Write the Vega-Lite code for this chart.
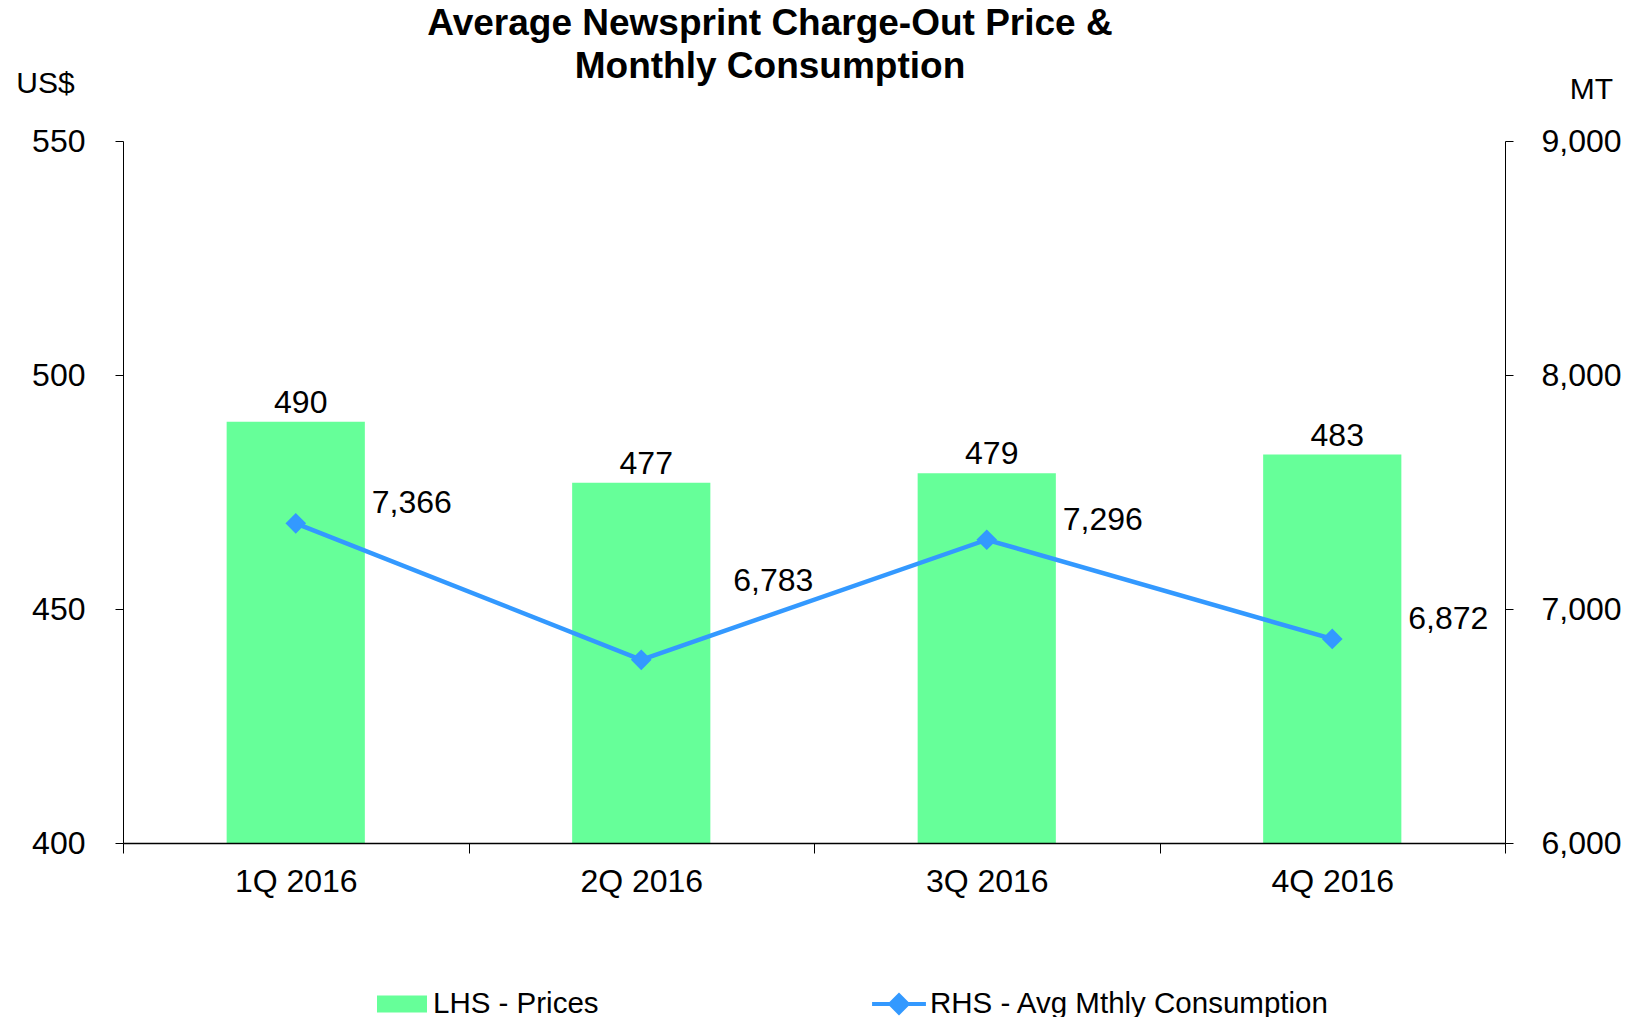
{
  "$schema": "https://vega.github.io/schema/vega-lite/v6.json",
  "width": 1382,
  "height": 702,
  "autosize": "none",
  "padding": {"left": 123, "top": 141, "right": 130, "bottom": 174},
  "background": "white",
  "config": {
    "font": "Liberation Sans",
    "view": {"stroke": null},
    "axis": {"grid": false, "domainColor": "#000000", "tickColor": "#000000", "labelColor": "#000000", "titleColor": "#000000", "labelFont": "Liberation Sans", "titleFont": "Liberation Sans", "labelFontSize": 32, "titleFontSize": 30, "titleFontWeight": "normal"},
    "legend": {"labelFont": "Liberation Sans", "labelFontSize": 29.5, "labelColor": "#000000", "labelLimit": 0}
  },
  "title": {
    "text": ["Average Newsprint Charge-Out Price &", "Monthly Consumption"],
    "font": "Liberation Sans",
    "fontSize": 37,
    "fontWeight": "bold",
    "color": "#000000",
    "anchor": "middle",
    "lineHeight": 43,
    "dx": -44,
    "offset": 0,
    "dy": 18
  },
  "data": {
    "values": [
      {"q": "1Q 2016", "price": 490, "cons": 7366},
      {"q": "2Q 2016", "price": 477, "cons": 6783},
      {"q": "3Q 2016", "price": 479, "cons": 7296},
      {"q": "4Q 2016", "price": 483, "cons": 6872}
    ]
  },
  "encoding": {
    "x": {
      "field": "q",
      "type": "nominal",
      "sort": null,
      "scale": {"paddingInner": 0, "paddingOuter": 0},
      "axis": {"title": null, "labelAngle": 0, "tickBand": "extent", "tickSize": 10, "labelPadding": 13, "domainWidth": 1.5, "zindex": 1}
    }
  },
  "layer": [
    {
      "encoding": {
        "y": {
          "field": "price",
          "type": "quantitative",
          "scale": {"domain": [400, 550], "nice": false, "zero": false},
          "axis": {"title": "US$", "titleAngle": 0, "titleX": -78, "titleY": -58, "titleAlign": "center", "titleBaseline": "middle", "values": [400, 450, 500, 550], "format": ".0f", "tickSize": 8, "labelPadding": 30}
        }
      },
      "layer": [
        {
          "mark": {"type": "bar", "width": {"band": 0.4}, "clip": true},
          "encoding": {
            "fill": {
              "datum": "LHS - Prices",
              "scale": {"range": ["#66FF99"]},
              "legend": {"title": null, "orient": "none", "legendX": 254, "legendY": 838, "symbolType": "M-1,-0.34H1V0.34H-1Z", "symbolSize": 2500, "symbolStrokeWidth": 0, "labelOffset": 6}
            }
          }
        },
        {
          "mark": {"type": "text", "baseline": "bottom", "dy": -2, "dx": 5, "fontSize": 32, "color": "#000000"},
          "encoding": {"text": {"field": "price", "type": "quantitative"}}
        }
      ]
    },
    {
      "encoding": {
        "y": {
          "field": "cons",
          "type": "quantitative",
          "scale": {"domain": [6000, 9000], "nice": false, "zero": false},
          "axis": {"orient": "right", "title": "MT", "titleAngle": 0, "titleX": 86, "titleY": -52, "titleAlign": "center", "titleBaseline": "middle", "values": [6000, 7000, 8000, 9000], "format": ",.0f", "tickSize": 8, "labelPadding": 28}
        }
      },
      "layer": [
        {
          "mark": {"type": "line", "strokeWidth": 4.5, "point": {"shape": "diamond", "filled": true, "size": 320, "color": "#3399FF"}},
          "encoding": {
            "stroke": {
              "datum": "RHS - Avg Mthly Consumption",
              "scale": {"range": ["#3399FF"]},
              "legend": {"title": null, "orient": "none", "legendX": 747, "legendY": 834, "symbolType": "M-1,0H1M-0.32,0L0,-0.32L0.32,0L0,0.32Z", "symbolSize": 2900, "symbolStrokeWidth": 4, "symbolFillColor": "#3399FF", "labelOffset": 2}
            }
          }
        },
        {
          "transform": [{"filter": "datum.q !== '2Q 2016'"}],
          "mark": {"type": "text", "align": "left", "baseline": "middle", "dx": 76, "dy": -20, "fontSize": 32, "color": "#000000"},
          "encoding": {"text": {"field": "cons", "type": "quantitative", "format": ","}}
        },
        {
          "transform": [{"filter": "datum.q === '2Q 2016'"}],
          "mark": {"type": "text", "align": "left", "baseline": "middle", "dx": 92, "dy": -79, "fontSize": 32, "color": "#000000"},
          "encoding": {"text": {"field": "cons", "type": "quantitative", "format": ","}}
        }
      ]
    }
  ],
  "resolve": {"scale": {"y": "independent"}}
}
